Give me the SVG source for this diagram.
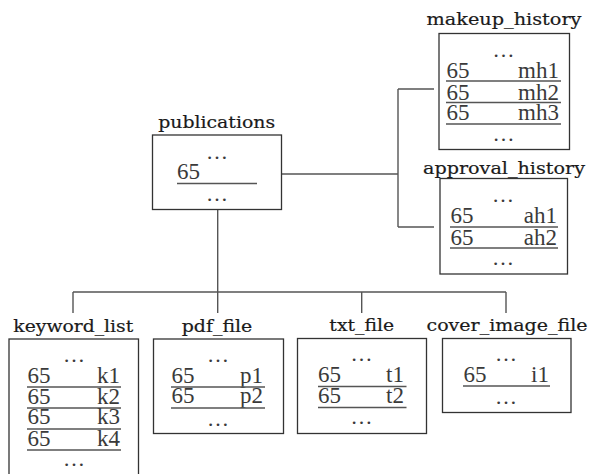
<svg xmlns="http://www.w3.org/2000/svg" width="589" height="474" viewBox="0 0 589 474">
<style>
.bg{fill:#ffffff}
.box{fill:#ffffff;stroke:#333333;stroke-width:1.3}
.lbl{font-family:"DejaVu Serif","Liberation Serif",serif;font-size:17.5px;fill:#1a1a1a;stroke:#1a1a1a;stroke-width:0.2;text-anchor:middle}
.t{font-family:"Liberation Serif","DejaVu Serif",serif;font-size:23px;fill:#3a3a3a}
.r{text-anchor:end}
.dots{font-family:"Liberation Serif","DejaVu Serif",serif;font-size:22px;fill:#3a3a3a;text-anchor:middle}
.ul{stroke:#555555;stroke-width:1.5;fill:none}
.conn{stroke:#555555;stroke-width:1.4;fill:none}
</style>
<rect class="bg" x="0" y="0" width="589" height="474"/>
<g id="connectors">
<path class="conn" d="M281,174 H398 M398,89 V227 M398,89 H434 M398,227 H434"/>
<path class="conn" d="M217.7,209 V292 M73,292 H506 M73,292 V313 M217.7,292 V313 M361.7,292 V313 M506,292 V313"/>
</g>
<g id="publications">
<text class="lbl" x="216.7" y="128" textLength="117" lengthAdjust="spacingAndGlyphs">publications</text>
<rect class="box" x="152.5" y="135" width="129" height="74.5"/>
<text class="dots" x="217" y="159">…</text>
<text class="t" x="177" y="179">65</text>
<line class="ul" x1="177" y1="183.5" x2="257" y2="183.5"/>
<text class="dots" x="217" y="201">…</text>
</g>
<g id="makeup_history">
<text class="lbl" x="504" y="25" textLength="155" lengthAdjust="spacingAndGlyphs">makeup_history</text>
<rect class="box" x="439" y="33.5" width="130.5" height="116"/>
<text class="dots" x="503.5" y="56.5">…</text>
<text class="t" x="446.5" y="78.3">65</text><text class="t r" x="559" y="78.3">mh1</text>
<line class="ul" x1="446" y1="81" x2="561" y2="81"/>
<text class="t" x="446.5" y="100">65</text><text class="t r" x="559" y="100">mh2</text>
<line class="ul" x1="446" y1="102.5" x2="561" y2="102.5"/>
<text class="t" x="446.5" y="120">65</text><text class="t r" x="559" y="120">mh3</text>
<line class="ul" x1="446" y1="124" x2="561" y2="124"/>
<text class="dots" x="503.5" y="141">…</text>
</g>
<g id="approval_history">
<text class="lbl" x="504" y="174" textLength="162" lengthAdjust="spacingAndGlyphs">approval_history</text>
<rect class="box" x="440" y="178.5" width="127.5" height="95.5"/>
<text class="dots" x="503" y="202">…</text>
<text class="t" x="450.5" y="222.7">65</text><text class="t r" x="557" y="222.7">ah1</text>
<line class="ul" x1="450" y1="227" x2="558" y2="227"/>
<text class="t" x="450.5" y="245">65</text><text class="t r" x="557" y="245">ah2</text>
<line class="ul" x1="450" y1="248" x2="558" y2="248"/>
<text class="dots" x="503" y="265">…</text>
</g>
<g id="keyword_list">
<text class="lbl" x="73.3" y="331.5" textLength="120" lengthAdjust="spacingAndGlyphs">keyword_list</text>
<rect class="box" x="9" y="339" width="129.5" height="140"/>
<text class="dots" x="74" y="362">…</text>
<text class="t" x="27.5" y="383.3">65</text><text class="t r" x="120" y="383.3">k1</text>
<line class="ul" x1="27" y1="387" x2="121" y2="387"/>
<text class="t" x="27.5" y="403.5">65</text><text class="t r" x="120" y="403.5">k2</text>
<line class="ul" x1="27" y1="408" x2="121" y2="408"/>
<text class="t" x="27.5" y="424">65</text><text class="t r" x="120" y="424">k3</text>
<line class="ul" x1="27" y1="429" x2="121" y2="429"/>
<text class="t" x="27.5" y="446">65</text><text class="t r" x="120" y="446">k4</text>
<line class="ul" x1="27" y1="450" x2="121" y2="450"/>
<text class="dots" x="74" y="466">…</text>
</g>
<g id="pdf_file">
<text class="lbl" x="217" y="331.5" textLength="70.6" lengthAdjust="spacingAndGlyphs">pdf_file</text>
<rect class="box" x="153.5" y="339" width="130" height="94.5"/>
<text class="dots" x="218" y="362">…</text>
<text class="t" x="171.5" y="383.3">65</text><text class="t r" x="263" y="383.3">p1</text>
<line class="ul" x1="171" y1="387" x2="265" y2="387"/>
<text class="t" x="171.5" y="403.3">65</text><text class="t r" x="263" y="403.3">p2</text>
<line class="ul" x1="171" y1="408" x2="265" y2="408"/>
<text class="dots" x="218" y="426">…</text>
</g>
<g id="txt_file">
<text class="lbl" x="361.7" y="331" textLength="64.7" lengthAdjust="spacingAndGlyphs">txt_file</text>
<rect class="box" x="297.5" y="338.5" width="129" height="95"/>
<text class="dots" x="361.5" y="361">…</text>
<text class="t" x="318" y="382">65</text><text class="t r" x="404" y="382">t1</text>
<line class="ul" x1="318" y1="386.5" x2="406.5" y2="386.5"/>
<text class="t" x="318" y="403.3">65</text><text class="t r" x="404" y="403.3">t2</text>
<line class="ul" x1="318" y1="407.5" x2="406.5" y2="407.5"/>
<text class="dots" x="361.5" y="424">…</text>
</g>
<g id="cover_image_file">
<text class="lbl" x="507" y="331" textLength="161" lengthAdjust="spacingAndGlyphs">cover_image_file</text>
<rect class="box" x="442.5" y="338.5" width="128.5" height="74"/>
<text class="dots" x="506" y="361">…</text>
<text class="t" x="463.5" y="381.5">65</text><text class="t r" x="549" y="381.5">i1</text>
<line class="ul" x1="463" y1="386" x2="550" y2="386"/>
<text class="dots" x="506" y="404">…</text>
</g>
</svg>
